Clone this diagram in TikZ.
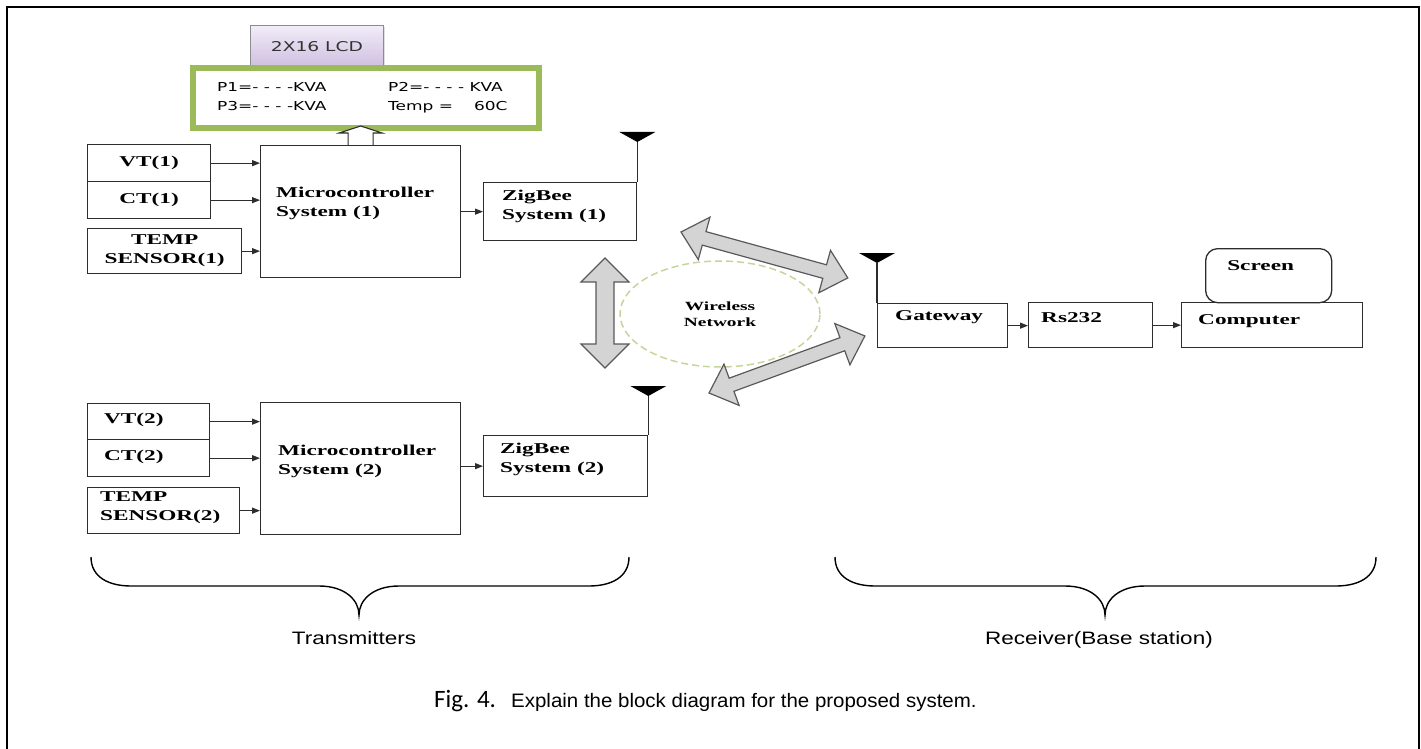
\documentclass[tikz,border=0pt]{standalone}
\usepackage{fontspec}
\setmainfont{Liberation Serif}
\newfontfamily\blkfont{Liberation Serif}[FakeStretch=1.55]
\newfontfamily\lcdfont{DejaVu Sans}[FakeStretch=1.38]
\newfontfamily\labfont{Liberation Sans}[FakeStretch=1.25]
\newfontfamily\capfont{Liberation Sans}[FakeStretch=1.05]
\newfontfamily\figfont{Carlito}
\usetikzlibrary{positioning,arrows.meta,shapes.geometric,shadows}

\definecolor{lcdgreen}{RGB}{155,187,89}
\definecolor{netgreen}{RGB}{196,214,155}
\definecolor{lcdtop}{RGB}{242,237,248}
\definecolor{lcdbot}{RGB}{206,190,224}
\definecolor{arrgray}{RGB}{212,212,212}
\definecolor{linegray}{RGB}{45,45,45}

\tikzset{
  blk/.style={draw=linegray, line width=1.3pt, inner sep=0pt, anchor=north west,
    align=center, font=\blkfont\bfseries\fontsize{15}{19}\selectfont},
  btxt/.style={inner sep=0pt, align=left, anchor=west,
    font=\blkfont\bfseries\fontsize{15}{19}\selectfont},
  lcdtxt/.style={inner sep=0pt, anchor=base west, font=\lcdfont\fontsize{12.3}{14}\selectfont},
  lab/.style={inner sep=0pt, anchor=base, font=\labfont\fontsize{18}{22}\selectfont},
  sig/.style={-{Triangle[length=8pt,width=6pt]}, line width=1.1pt, draw=linegray},
  ant/.style={line width=1.3pt, draw=linegray},
  hollow/.style={fill=white, draw=linegray, line width=1.1pt},
  blockarr/.style={fill=arrgray, draw=black!65, line width=1.2pt, line join=miter},
  brace/.style={line width=1.4pt},
  pics/dblarrow/.style 2 args={code={
    \draw[blockarr] (0,0) -- (24,{-#2-15}) -- (24,-#2) -- ({#1-24},-#2)
      -- ({#1-24},{-#2-15}) -- (#1,0) -- ({#1-24},{#2+15}) -- ({#1-24},#2)
      -- (24,#2) -- (24,{#2+15}) -- cycle;
  }}
}

\begin{document}
\begin{tikzpicture}[x=1pt, y=-1pt]
\useasboundingbox (0,0) rectangle (1421,749);
\draw[line width=2.5pt] (7,760) -- (7,7) -- (1419,7) -- (1419,760);

% LCD
\node[draw=black!45, line width=0.8pt, top color=lcdtop, bottom color=lcdbot,
  drop shadow={opacity=0.25, shadow xshift=2pt, shadow yshift=-2pt},
  minimum width=133pt, minimum height=42pt, anchor=north west,
  font=\lcdfont\fontsize{13.5}{15}\selectfont, text=black!80] (lcdlab) at (250,25) {2X16 LCD};
\node[draw=lcdgreen, line width=4pt, minimum width=348pt, minimum height=62pt,
  anchor=north west] (lcd) at (190,65) {};
\draw[lcdgreen, line width=1.3pt] ([shift={(5,5)}]lcd.north west) rectangle ([shift={(-5,-5)}]lcd.south east);
\node[lcdtxt] (p1) at (217,92) {P1=- - - -KVA};
\node[lcdtxt] (p2) at (388,92) {P2=- - - - KVA};
\node[lcdtxt] (p3) at (217,111) {P3=- - - -KVA};
\node[lcdtxt] (tval) at (388,111) {Temp =\hspace{21pt}60C};

% transmitter 1
\node[blk, minimum width=123pt, minimum height=37pt] (vt1) at (87,144) {VT(1)};
\node[blk, minimum width=123pt, minimum height=37pt] (ct1) at (87,181) {CT(1)};
\node[blk, minimum width=154pt, minimum height=45pt] (tmp1) at (87,228) {TEMP\\SENSOR(1)};
\node[blk, minimum width=200pt, minimum height=132pt] (mc1) at (260,145) {};
\node[btxt] (mc1t) at ([shift={(16,-8)}]mc1.west) {Microcontroller\\System (1)};
\node[blk, minimum width=153pt, minimum height=58pt] (zb1) at (483,182) {};
\node[btxt] (zb1t) at ([shift={(19,-5)}]zb1.west) {ZigBee\\System (1)};

\draw[sig] (vt1.east) -- (vt1.east -| mc1.west);
\draw[sig] (ct1.east) -- (ct1.east -| mc1.west);
\draw[sig] (tmp1.east) -- (tmp1.east -| mc1.west);
\draw[sig] (mc1.east |- zb1.west) -- (zb1.west);
\draw[ant] (zb1.north east) -- ++(0,-40) coordinate (a1);
\fill (a1) -- ++(-18,-10) -- ++(36,0) -- cycle;

\draw[hollow] ([xshift=-12.5]mc1.north) -- ++(0,-12) -- ++(-9,0) -- ++(21.5,-7)
  -- ++(21.5,7) -- ++(-9,0) -- ++(0,12);

% transmitter 2
\node[blk, minimum width=122pt, minimum height=36pt] (vt2) at (87,403) {};
\node[btxt] (vt2t) at ([shift={(17,-2)}]vt2.west) {VT(2)};
\node[blk, minimum width=122pt, minimum height=37pt] (ct2) at (87,439) {};
\node[btxt] (ct2t) at ([shift={(17,-1)}]ct2.west) {CT(2)};
\node[blk, minimum width=152pt, minimum height=46pt] (tmp2) at (87,487) {};
\node[btxt] (tmp2t) at ([shift={(13,-3)}]tmp2.west) {TEMP\\SENSOR(2)};
\node[blk, minimum width=200pt, minimum height=132pt] (mc2) at (260,402) {};
\node[btxt] (mc2t) at ([shift={(18,-7)}]mc2.west) {Microcontroller\\System (2)};
\node[blk, minimum width=164pt, minimum height=61pt] (zb2) at (483,435) {};
\node[btxt] (zb2t) at ([shift={(17,-7)}]zb2.west) {ZigBee\\System (2)};

\draw[sig] (vt2.east) -- (vt2.east -| mc2.west);
\draw[sig] (ct2.east) -- (ct2.east -| mc2.west);
\draw[sig] (tmp2.east) -- (tmp2.east -| mc2.west);
\draw[sig] (mc2.east |- zb2.west) -- (zb2.west);
\draw[ant] (zb2.north east) -- ++(0,-39) coordinate (a2);
\fill (a2) -- ++(-18,-10) -- ++(36,0) -- cycle;

% wireless link
\node[ellipse, draw=netgreen, dashed, dash pattern=on 7pt off 4pt, line width=1.5pt,
  minimum width=200pt, minimum height=106pt, inner sep=0pt, align=center,
  font=\blkfont\bfseries\fontsize{12.5}{16}\selectfont] (net) at (720,314) {Wireless\\Network};
\pic[rotate=-90] at (605,258) {dblarrow={110}{9}};
\pic[rotate=-15.4] at (681,232) {dblarrow={173}{7}};
\pic[rotate=20.1] at (709,393) {dblarrow={166}{7}};

% receiver
\node[blk, minimum width=130pt, minimum height=44pt] (gw) at (877,303) {};
\node[btxt] (gwt) at ([shift={(18,-8)}]gw.west) {Gateway};
\node[blk, minimum width=124pt, minimum height=45pt] (rs) at (1028,302) {};
\node[btxt] (rst) at ([shift={(13,-8)}]rs.west) {Rs232};
\node[blk, minimum width=181pt, minimum height=45pt] (pc) at (1181,302) {};
\node[btxt] (pct) at ([shift={(17,-4)}]pc.west) {Computer};
\node[blk, rounded corners=12pt, minimum width=126pt, minimum height=54pt] (scr) at (1205,248) {};
\node[btxt, anchor=center] (scrt) at ([shift={(-8,-10)}]scr.center) {Screen};

\draw[sig] (gw.east) -- (gw.east -| rs.west);
\draw[sig] (rs.east) -- (rs.east -| pc.west);
\draw[ant] (gw.north west) -- ++(0,-40) coordinate (a3);
\fill (a3) -- ++(-18,-10) -- ++(36,0) -- cycle;

% braces
\coordinate (ltip) at (359,615);
\coordinate (rtip) at (1105,615);
\draw[brace] (91,557) .. controls (91,578) and (110,586) .. (131,586) -- (319,586)
  .. controls (345,586) and (359,600) .. (ltip) .. controls (359,600) and (373,586) .. (399,586)
  -- (589,586) .. controls (610,586) and (629,578) .. (629,557);
\draw[brace] (835,557) .. controls (835,578) and (854,586) .. (875,586) -- (1065,586)
  .. controls (1091,586) and (1105,600) .. (rtip) .. controls (1105,600) and (1119,586) .. (1145,586)
  -- (1336,586) .. controls (1357,586) and (1376,578) .. (1376,557);
\node[lab] (tx) at ([shift={(-5,29)}]ltip) {Transmitters};
\node[lab] (rx) at ([shift={(-6,29)}]rtip) {Receiver(Base station)};

% caption
\node[inner sep=0pt, anchor=base west, font=\figfont\fontsize{25}{30}\selectfont] (figno) at (434,707) {Fig. 4.};
\node[inner sep=0pt, anchor=base west, font=\capfont\fontsize{19.5}{24}\selectfont] (figcap) at (511,707)
  {Explain the block diagram for the proposed system.};
\end{tikzpicture}
\end{document}
